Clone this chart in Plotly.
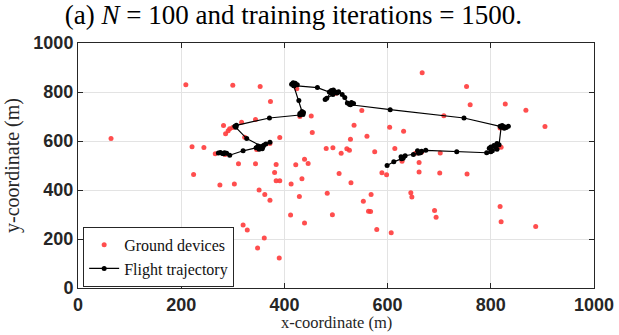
import plotly.graph_objects as go

# Ground devices (x, y) in metres
dev_x = [64, 209, 300, 353, 373, 317, 344, 282, 291, 286, 294, 323, 391, 424, 454,
         221, 244, 481, 494, 311, 344, 384, 422, 439, 446, 667, 753, 760, 828, 868,
         905, 709, 550, 535, 604, 631, 560, 528, 521, 526, 510, 575, 614, 702, 661,
         818, 654, 628, 224, 275, 303, 381, 384, 391, 413, 434, 351, 362, 372, 429,
         412, 439, 483, 493, 506, 320, 328, 361, 348, 390, 529, 553, 568, 563, 567,
         579, 607, 589, 598, 661, 701, 754, 645, 647, 691, 694, 818, 820, 887, 285,
         346, 372, 430, 666, 820, 500, 266, 300, 452, 814]
dev_y = [610, 830, 828, 822, 761, 677, 688, 663, 642, 630, 650, 615, 614, 813, 635,
         577, 573, 569, 572, 507, 507, 504, 503, 526, 508, 879, 822, 748, 751, 726,
         659, 703, 725, 664, 656, 640, 619, 607, 568, 562, 550, 556, 569, 551, 512,
         653, 550, 517, 463, 420, 424, 471, 438, 438, 424, 446, 400, 382, 358, 373,
         298, 265, 387, 299, 467, 257, 237, 204, 163, 122, 430, 354, 382, 313, 312,
         239, 226, 470, 462, 473, 469, 465, 389, 371, 316, 289, 333, 270, 251, 545,
         565, 590, 700, 555, 575, 795, 548, 655, 702, 575]

# UAV flight trajectory (x, y) in metres, in flight order
traj_x = [272, 276, 280, 284, 288, 282, 294, 320, 345, 349, 353, 357, 360, 354, 351,
          358, 364, 372, 356, 327, 306, 304, 307, 371, 430, 433, 437, 434, 430, 436,
          428, 418, 414, 417, 421, 425, 419, 464, 487, 491, 495, 499, 502, 494, 482,
          479, 490, 505, 512, 517, 522, 526, 530, 534, 528, 605, 748, 818, 822, 826,
          830, 834, 826, 820, 816, 812, 806, 800, 797, 809, 812, 803, 800, 792, 734,
          674, 666, 662, 658, 664, 660, 650, 634, 630, 627, 626, 630, 612, 599]
traj_y = [551, 553, 549, 552, 550, 548, 542, 560, 572, 580, 576, 568, 583, 575, 566,
          574, 588, 595, 578, 610, 656, 660, 664, 694, 706, 711, 716, 720, 712, 708,
          765, 826, 832, 838, 836, 830, 826, 818, 800, 806, 808, 800, 796, 790, 774,
          769, 796, 801, 790, 778, 755, 750, 757, 753, 748, 728, 694, 660, 663, 658,
          655, 660, 652, 656, 585, 590, 582, 576, 570, 574, 566, 560, 556, 552, 556,
          562, 558, 554, 560, 552, 550, 545, 540, 534, 528, 536, 530, 515, 500]

tick_vals = [0, 200, 400, 600, 800, 1000]
tick_text = ["0", "200", "400", "600", "800", "1000"]

serif = "Liberation Serif, Times New Roman, serif"
sans = "Liberation Sans, Arial, sans-serif"

fig = go.Figure()
fig.add_trace(go.Scatter(
    x=dev_x, y=dev_y, mode="markers", name="Ground devices",
    marker=dict(color="#ff3b3b", size=5, opacity=0.9, line=dict(width=0)),
))
fig.add_trace(go.Scatter(
    x=traj_x, y=traj_y, mode="lines+markers", name="Flight trajectory",
    line=dict(color="black", width=1.2),
    marker=dict(color="black", size=5),
))

axis_common = dict(
    range=[0, 1000], tickvals=tick_vals, ticktext=tick_text,
    showgrid=True, gridcolor="#e3e3e3", gridwidth=1,
    zeroline=False, showline=True, linecolor="#262626", linewidth=1,
    mirror="ticks", ticks="inside", ticklen=5, tickcolor="#262626",
    tickfont=dict(family=sans, size=18, color="#262626", weight="bold"),
    automargin=False,
)

fig.update_layout(
    width=619, height=335, autosize=False,
    margin=dict(l=78, r=25, t=43, b=47),
    paper_bgcolor="white", plot_bgcolor="white",
    showlegend=True,
    legend=dict(
        x=0.01, y=0.005, xanchor="left", yanchor="bottom",
        bgcolor="white", bordercolor="#262626", borderwidth=1,
        font=dict(family=serif, size=16, color="#111111"),
        tracegroupgap=0, itemwidth=30,
    ),
    title=dict(
        text="(a) <i>N</i> = 100 and training iterations = 1500.",
        xref="container", yref="container", x=0.474, y=0.956,
        xanchor="center", yanchor="middle",
        font=dict(family=serif, size=27, color="black"),
    ),
    annotations=[dict(
        text="x-coordinate (m)", xref="paper", yref="paper",
        x=0.5, y=-0.187, xanchor="center", yanchor="bottom", showarrow=False,
        font=dict(family=serif, size=16.5, color="#262626"),
    )],
)
fig.update_xaxes(**axis_common)
fig.update_yaxes(**axis_common, title=dict(text="y-coordinate (m)", standoff=8,
                 font=dict(family=serif, size=20, color="#262626")))

fig.write_html("out.html")
